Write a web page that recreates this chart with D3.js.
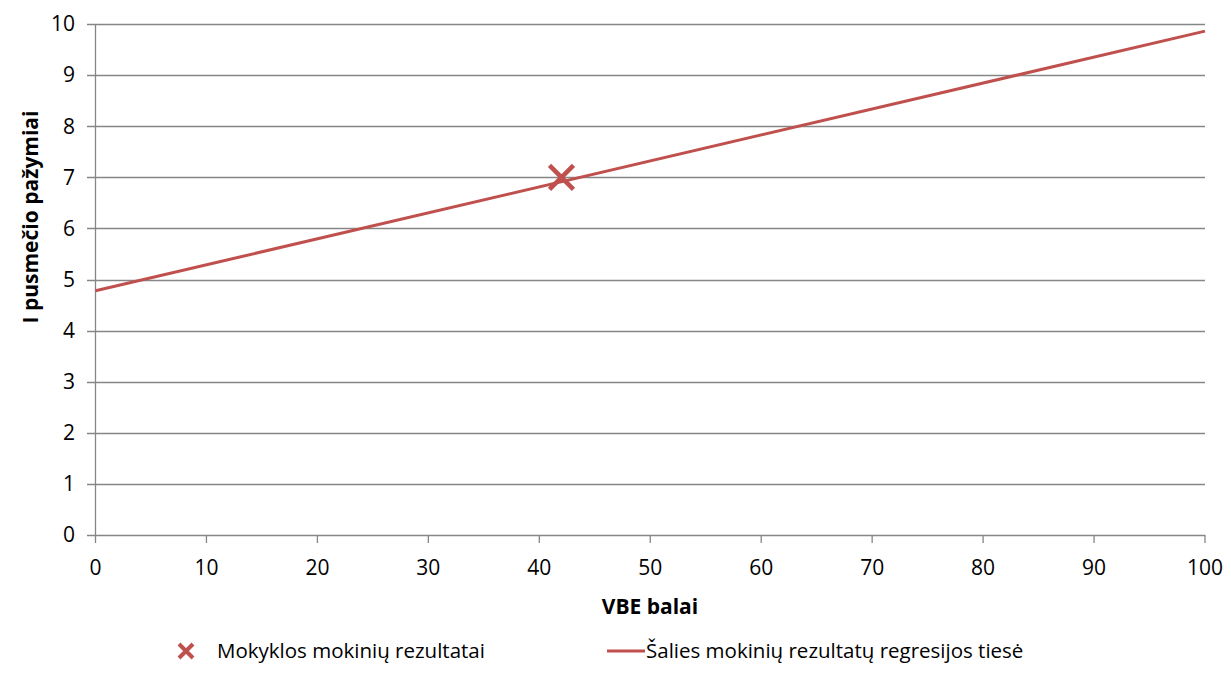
<!DOCTYPE html>
<html><head><meta charset="utf-8">
<script src="https://cdn.jsdelivr.net/npm/d3@7"></script>
<style>body{margin:0;background:#fff}svg{display:block}text{font-family:"Open Sans",Calibri,sans-serif;fill:#000}</style>
</head><body><svg id="c" width="1231" height="693"></svg>
<script>
const xTicks = [0,10,20,30,40,50,60,70,80,90,100];
const yTicks = [0,1,2,3,4,5,6,7,8,9,10];
const schoolX = [42];
const schoolY = [7];
const regX = [0,100];
const regY = [4.78,9.86];
const xTitle = "VBE balai";
const yTitle = "I pusmečio pažymiai";
const legendLabels = ["Mokyklos mokinių rezultatai","Šalies mokinių rezultatų regresijos tiesė"];
const red = "#C0504D", grid = "#868686";

const svg = d3.select("#c");
const x = d3.scaleLinear().domain([0,100]).range([95.5,1205]);
const y = d3.scaleLinear().domain([0,10]).range([535,24]);

svg.append("g").selectAll("line").data(yTicks).join("line")
  .attr("x1",87).attr("x2",x(100)).attr("y1",d=>Math.round(y(d))+0.5).attr("y2",d=>Math.round(y(d))+0.5)
  .attr("stroke",grid).attr("stroke-width",1.3);
svg.append("line").attr("x1",x(0)).attr("x2",x(0)).attr("y1",y(10)).attr("y2",y(0)+8)
  .attr("stroke",grid).attr("stroke-width",1.3);
svg.append("g").selectAll("line").data(xTicks.slice(1)).join("line")
  .attr("x1",d=>x(d)).attr("x2",d=>x(d)).attr("y1",y(0)).attr("y2",y(0)+8)
  .attr("stroke",grid).attr("stroke-width",1.3);
svg.append("g").selectAll("text").data(yTicks).join("text")
  .attr("x",75).attr("y",d=>y(d)).attr("dy","0.35em").attr("text-anchor","end")
  .attr("font-size",21).text(d=>d);
svg.append("g").selectAll("text").data(xTicks).join("text")
  .attr("x",d=>x(d)).attr("y",568).attr("dy","0.35em").attr("text-anchor","middle")
  .attr("font-size",21).text(d=>d);
svg.append("text").attr("x",650).attr("y",607).attr("dy","0.35em").attr("text-anchor","middle")
  .attr("font-size",21).attr("font-weight","bold").text(xTitle);
svg.append("text").attr("transform","translate(31,217) rotate(-90)").attr("dy","0.35em")
  .attr("text-anchor","middle").attr("font-size",21).attr("font-weight","bold").text(yTitle);

const line = d3.line().x(d=>x(d[0])).y(d=>y(d[1]));
svg.append("path").datum(regX.map((v,i)=>[v,regY[i]])).attr("d",line)
  .attr("fill","none").attr("stroke",red).attr("stroke-width",3);

function cross(g,cx,cy,s,w){
  g.append("path").attr("d",`M${cx-s},${cy-s}L${cx+s},${cy+s}M${cx-s},${cy+s}L${cx+s},${cy-s}`)
   .attr("stroke",red).attr("stroke-width",w).attr("fill","none");
}
schoolX.forEach((v,i)=>cross(svg,x(v),y(schoolY[i]),12,4.5));

cross(svg,186,651,7,4);
svg.append("text").attr("x",217).attr("y",651).attr("dy","0.35em").attr("font-size",20.5).text(legendLabels[0]);
svg.append("line").attr("x1",607).attr("x2",645).attr("y1",651).attr("y2",651).attr("stroke",red).attr("stroke-width",3);
svg.append("text").attr("x",646).attr("y",651).attr("dy","0.35em").attr("font-size",20.5).text(legendLabels[1]);
</script></body></html>
